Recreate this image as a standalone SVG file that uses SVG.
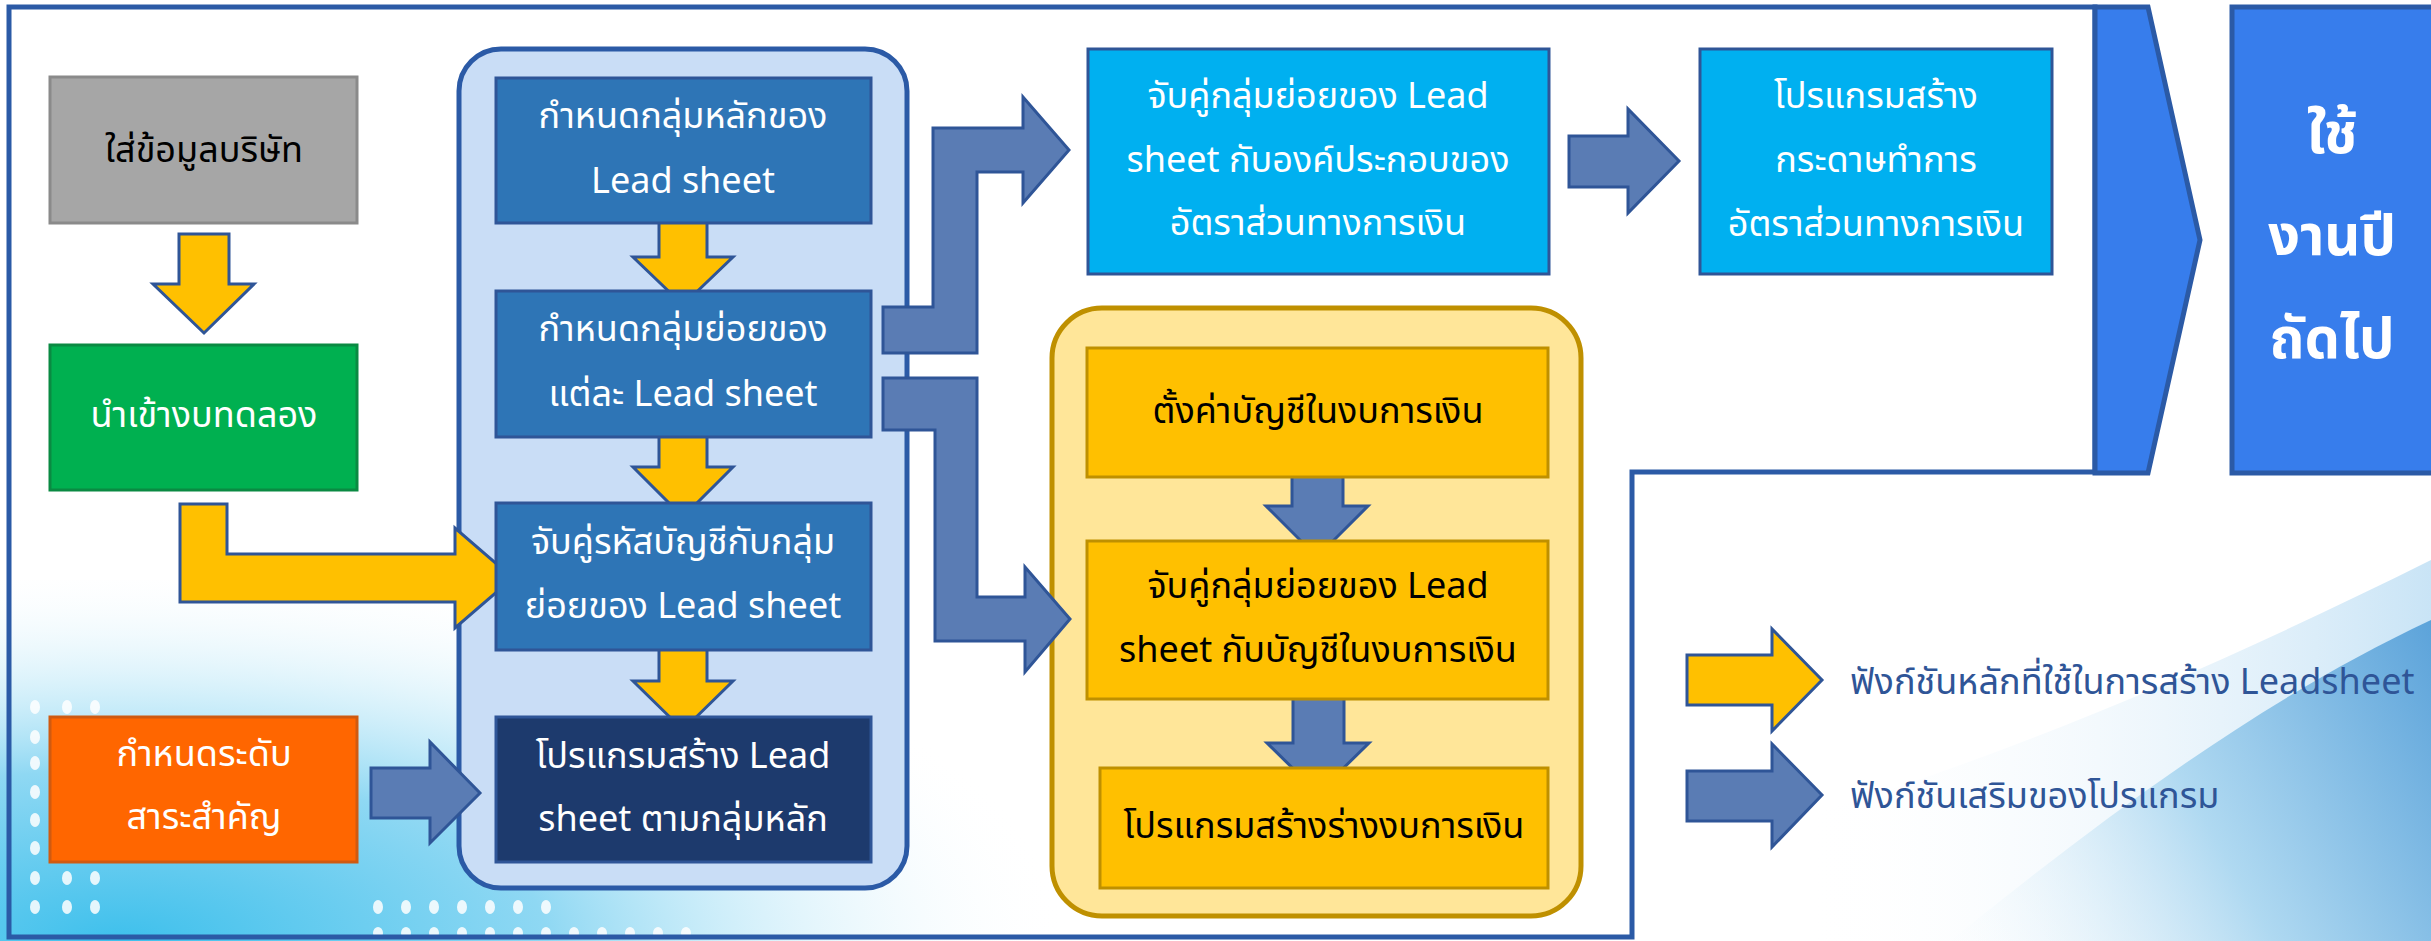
<svg xmlns="http://www.w3.org/2000/svg" width="2431" height="941" viewBox="0 0 2431 941">
<style>
.t{font-family:"Noto Sans Thai","Liberation Sans","DejaVu Sans",sans-serif;font-size:36px;text-anchor:middle}
.w{fill:#ffffff}
.k{fill:#000000}
.ya{fill:#ffc000;stroke:#2f5597;stroke-width:3;stroke-linejoin:miter}
.ba{fill:#5a7cb4;stroke:#2f5597;stroke-width:3;stroke-linejoin:miter}
.lg{font-family:"Noto Sans Thai","Liberation Sans","DejaVu Sans",sans-serif;font-size:36px;fill:#2f5597}
.dot{fill:#ffffff;opacity:0.85}
</style>
<defs>
<radialGradient id="gl" cx="120" cy="941" r="760" gradientUnits="userSpaceOnUse" gradientTransform="translate(120 941) scale(1.25 0.5) translate(-120 -941)">
<stop offset="0" stop-color="#3ec0ec"/>
<stop offset="0.45" stop-color="#8fd8f3"/>
<stop offset="1" stop-color="#ffffff" stop-opacity="0"/>
</radialGradient>
<linearGradient id="gr" x1="1900" y1="900" x2="2431" y2="600" gradientUnits="userSpaceOnUse">
<stop offset="0" stop-color="#ffffff" stop-opacity="0"/>
<stop offset="0.5" stop-color="#a9d6f0"/>
<stop offset="1" stop-color="#4d9ad6"/>
</linearGradient>
<linearGradient id="gr2" x1="1800" y1="941" x2="2431" y2="941" gradientUnits="userSpaceOnUse">
<stop offset="0" stop-color="#ffffff" stop-opacity="0"/>
<stop offset="1" stop-color="#c9e4f6"/>
</linearGradient>
</defs>
<rect width="2431" height="941" fill="#ffffff"/>
<g id="background">
<rect x="0" y="580" width="1200" height="361" fill="url(#gl)"/>
<path d="M1640 941 L1640 860 C1900 800 2150 700 2431 560 L2431 941 Z" fill="url(#gr2)"/>
<path d="M1950 941 C2100 820 2260 700 2431 620 L2431 941 Z" fill="url(#gr)" opacity="0.9"/>
<g class="dot">
<ellipse cx="35" cy="707" rx="5" ry="7"/><ellipse cx="67" cy="707" rx="5" ry="7"/><ellipse cx="95" cy="707" rx="5" ry="7"/>
<ellipse cx="35" cy="737" rx="5" ry="7"/><ellipse cx="35" cy="763" rx="5" ry="7"/><ellipse cx="35" cy="792" rx="5" ry="7"/>
<ellipse cx="35" cy="820" rx="5" ry="7"/><ellipse cx="35" cy="848" rx="5" ry="7"/>
<ellipse cx="35" cy="878" rx="5" ry="7"/><ellipse cx="67" cy="878" rx="5" ry="7"/><ellipse cx="95" cy="878" rx="5" ry="7"/>
<ellipse cx="35" cy="907" rx="5" ry="7"/><ellipse cx="67" cy="907" rx="5" ry="7"/><ellipse cx="95" cy="907" rx="5" ry="7"/>
<ellipse cx="378" cy="907" rx="5" ry="7"/><ellipse cx="406" cy="907" rx="5" ry="7"/><ellipse cx="434" cy="907" rx="5" ry="7"/><ellipse cx="462" cy="907" rx="5" ry="7"/><ellipse cx="490" cy="907" rx="5" ry="7"/><ellipse cx="518" cy="907" rx="5" ry="7"/><ellipse cx="546" cy="907" rx="5" ry="7"/>
<ellipse cx="378" cy="933" rx="5" ry="6"/><ellipse cx="406" cy="933" rx="5" ry="6"/><ellipse cx="434" cy="933" rx="5" ry="6"/><ellipse cx="462" cy="933" rx="5" ry="6"/><ellipse cx="490" cy="933" rx="5" ry="6"/><ellipse cx="518" cy="933" rx="5" ry="6"/><ellipse cx="546" cy="933" rx="5" ry="6"/><ellipse cx="574" cy="933" rx="5" ry="6"/><ellipse cx="602" cy="933" rx="5" ry="6"/><ellipse cx="630" cy="933" rx="5" ry="6"/><ellipse cx="658" cy="933" rx="5" ry="6"/><ellipse cx="686" cy="933" rx="5" ry="6"/>
</g>
</g>
<g id="frame">
<path d="M9 7 H2095 V472 H1632 V937 H9 Z" fill="none" stroke="#2b5aa6" stroke-width="5"/>
<path d="M2095 7 H2148 L2200 240 L2148 473 H2095 Z" fill="#377dec" stroke="#2b5aa6" stroke-width="5"/>
</g>
<g id="containers">
<rect id="leadsheet-group" x="459" y="49" width="448" height="839" rx="42" fill="#c9ddf6" stroke="#2b5aa6" stroke-width="5"/>
<rect id="fs-group" x="1052" y="308" width="529" height="608" rx="50" fill="#ffe699" stroke="#bf9000" stroke-width="5"/>
</g>
<g id="connectors">
<path class="ya" d="M179 234 H229 V284 H254 L204 333 L153 284 H179 Z"/>
<path class="ya" d="M659 208 H707 V257 H733 L683 305 L633 257 H659 Z"/>
<path class="ya" d="M659 421 H707 V467 H733 L683 517 L633 467 H659 Z"/>
<path class="ya" d="M659 632 H707 V681 H733 L683 730 L633 681 H659 Z"/>
<path class="ya" d="M180 504 H227 V554 H455 V528 L513 578 L455 628 V602 H180 Z"/>
<path class="ba" d="M371 768 H430 V742 L480 793 L430 843 V818 H371 Z"/>
<path class="ba" d="M883 307 H933 V128 H1023 V97 L1069 150 L1023 203 V172 H977 V353 H883 Z"/>
<path class="ba" d="M883 378 H977 V597 H1025 V567 L1070 619 L1025 672 V641 H935 V430 H883 Z"/>
<path class="ba" d="M1569 136 H1628 V109 L1679 161 L1628 213 V187 H1569 Z"/>
<path class="ba" d="M1292 447 H1343 V506 H1368 L1317 557 L1266 506 H1292 Z"/>
<path class="ba" d="M1293 684 H1344 V743 H1369 L1318 793 L1267 743 H1293 Z"/>
</g>
<g id="n-company">
<rect x="50" y="77" width="307" height="146" fill="#a6a6a6" stroke="#8a8a8a" stroke-width="3"/>
<text class="t k" x="204" y="162">ใส่ข้อมูลบริษัท</text>
</g>
<g id="n-trialbalance">
<rect x="50" y="345" width="307" height="145" fill="#00b050" stroke="#0a8a42" stroke-width="3"/>
<text class="t w" x="204" y="427">นำเข้างบทดลอง</text>
</g>
<g id="n-materiality">
<rect x="50" y="717" width="307" height="145" fill="#ff6600" stroke="#d05a10" stroke-width="3"/>
<text class="t w" x="204" y="766">กำหนดระดับ</text>
<text class="t w" x="204" y="829">สาระสำคัญ</text>
</g>
<g id="n-main-group">
<rect x="496" y="78" width="375" height="145" fill="#2e75b6" stroke="#2f5597" stroke-width="3"/>
<text class="t w" x="683" y="128">กำหนดกลุ่มหลักของ</text>
<text class="t w" x="683" y="193">Lead sheet</text>
</g>
<g id="n-sub-group">
<rect x="496" y="291" width="375" height="146" fill="#2e75b6" stroke="#2f5597" stroke-width="3"/>
<text class="t w" x="683" y="341">กำหนดกลุ่มย่อยของ</text>
<text class="t w" x="683" y="406">แต่ละ Lead sheet</text>
</g>
<g id="n-map-account">
<rect x="496" y="503" width="375" height="147" fill="#2e75b6" stroke="#2f5597" stroke-width="3"/>
<text class="t w" x="683" y="554">จับคู่รหัสบัญชีกับกลุ่ม</text>
<text class="t w" x="683" y="618">ย่อยของ Lead sheet</text>
</g>
<g id="n-create-leadsheet">
<rect x="496" y="717" width="375" height="145" fill="#1d3a6d" stroke="#2f5597" stroke-width="3"/>
<text class="t w" x="683" y="768">โปรแกรมสร้าง Lead</text>
<text class="t w" x="683" y="831">sheet ตามกลุ่มหลัก</text>
</g>
<g id="n-map-ratio">
<rect x="1088" y="49" width="461" height="225" fill="#00b0f0" stroke="#2f5597" stroke-width="3"/>
<text class="t w" x="1318" y="108">จับคู่กลุ่มย่อยของ Lead</text>
<text class="t w" x="1318" y="172">sheet กับองค์ประกอบของ</text>
<text class="t w" x="1318" y="235">อัตราส่วนทางการเงิน</text>
</g>
<g id="n-ratio-wp">
<rect x="1700" y="49" width="352" height="225" fill="#00b0f0" stroke="#2f5597" stroke-width="3"/>
<text class="t w" x="1876" y="108">โปรแกรมสร้าง</text>
<text class="t w" x="1876" y="172">กระดาษทำการ</text>
<text class="t w" x="1876" y="236">อัตราส่วนทางการเงิน</text>
</g>
<g id="n-fs-setup">
<rect x="1087" y="348" width="461" height="129" fill="#ffc000" stroke="#bf9000" stroke-width="3"/>
<text class="t k" x="1318" y="423">ตั้งค่าบัญชีในงบการเงิน</text>
</g>
<g id="n-fs-map">
<rect x="1087" y="541" width="461" height="158" fill="#ffc000" stroke="#bf9000" stroke-width="3"/>
<text class="t k" x="1318" y="598">จับคู่กลุ่มย่อยของ Lead</text>
<text class="t k" x="1318" y="662">sheet กับบัญชีในงบการเงิน</text>
</g>
<g id="n-fs-draft">
<rect x="1100" y="768" width="448" height="120" fill="#ffc000" stroke="#bf9000" stroke-width="3"/>
<text class="t k" x="1324" y="838">โปรแกรมสร้างร่างงบการเงิน</text>
</g>
<g id="n-next-year">
<rect x="2232" y="7" width="205" height="466" fill="#377dec" stroke="#2b5aa6" stroke-width="5"/>
<text class="t w" x="2332" y="153" style="font-size:56px;font-weight:bold">ใช้</text>
<text class="t w" x="2332" y="255" style="font-size:56px;font-weight:bold">งานปี</text>
<text class="t w" x="2332" y="358" style="font-size:56px;font-weight:bold">ถัดไป</text>
</g>
<g id="legend">
<path class="ya" d="M1687 655 H1772 V629 L1822 680 L1772 731 V705 H1687 Z"/>
<text class="lg" x="1850" y="694">ฟังก์ชันหลักที่ใช้ในการสร้าง Leadsheet</text>
<path class="ba" d="M1687 771 H1772 V744 L1822 795 L1772 847 V821 H1687 Z"/>
<text class="lg" x="1850" y="808">ฟังก์ชันเสริมของโปรแกรม</text>
</g>
</svg>
